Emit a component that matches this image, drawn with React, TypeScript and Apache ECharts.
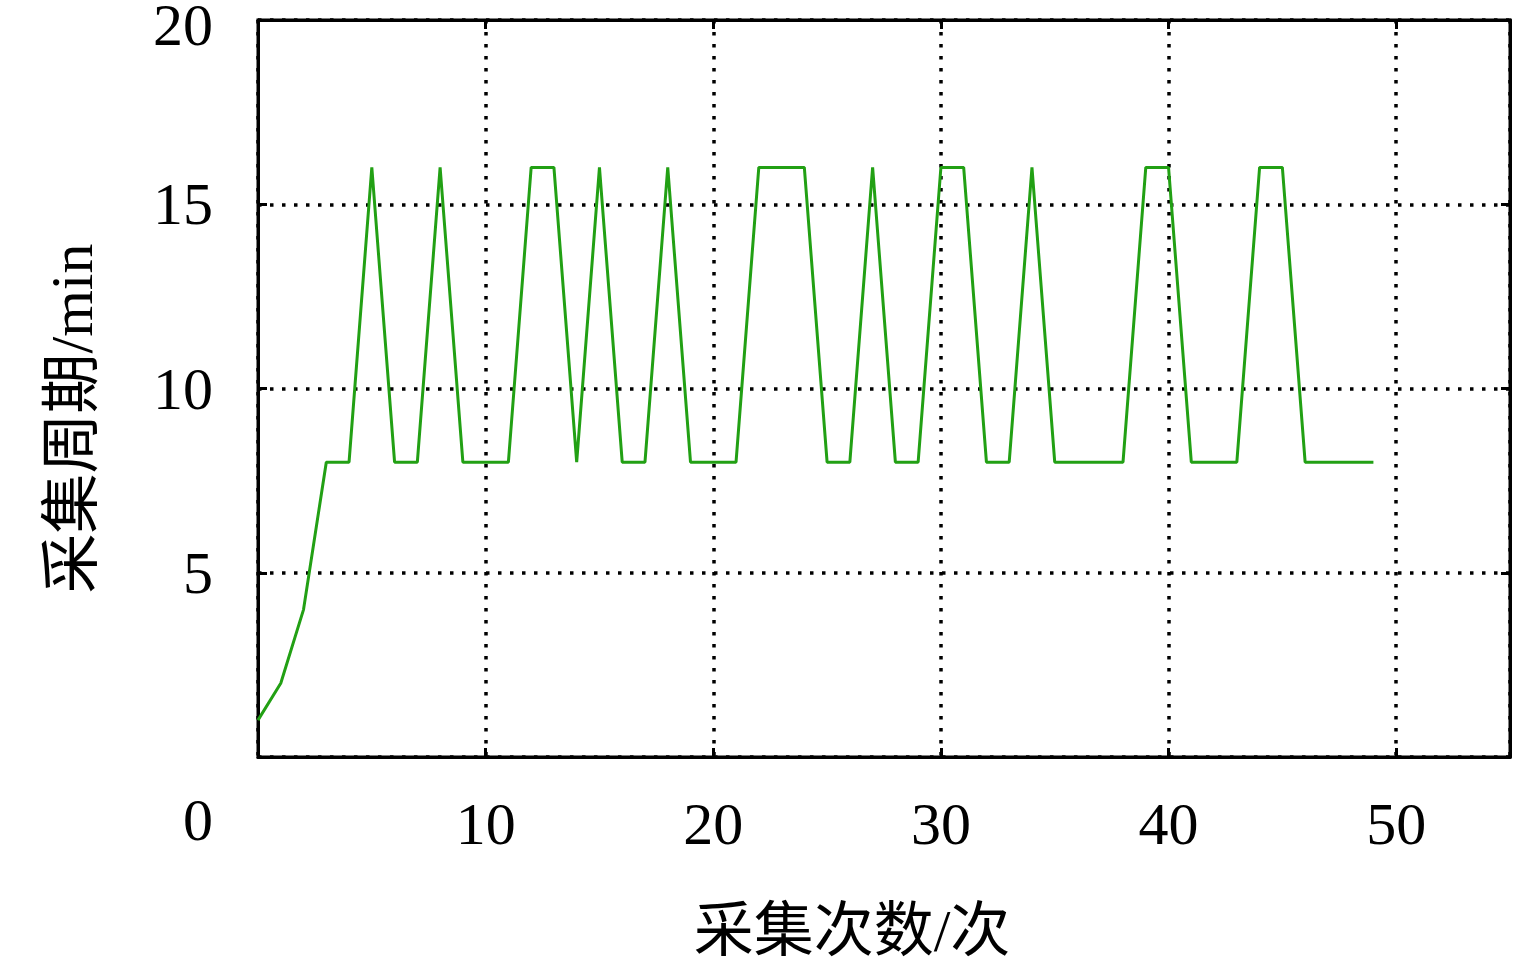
import React, { useEffect, useRef } from "react";
import * as echarts from "echarts";

const sampleIndex: number[] = Array.from({ length: 50 }, (_, i) => i);
const periodMinutes: number[] = [
  1, 2, 4, 8, 8, 16, 8, 8, 16, 8,
  8, 8, 16, 16, 8, 16, 8, 8, 16, 8,
  8, 8, 16, 16, 16, 8, 8, 16, 8, 8,
  16, 16, 8, 8, 16, 8, 8, 8, 8, 16,
  16, 8, 8, 8, 16, 16, 8, 8, 8, 8,
];
const xTitle = "采集次数/次";
const yTitle = "采集周期/min";

const FONT = "'Liberation Serif', 'Times New Roman', 'Noto Sans CJK SC', serif";

const mkTick = () => ({ show: true, inside: true, length: 9, lineStyle: { color: "#000", width: 3 } });
const mkGrid = () => ({ show: true, lineStyle: { color: "#000", width: 3.5, type: [3.5, 8.5] as any } });
const mkLine = () => ({ show: true, onZero: false, lineStyle: { color: "#000", width: 3 } });

export default function App() {
  const ref = useRef<HTMLDivElement>(null);
  useEffect(() => {
    if (!ref.current) return;
    const chart = echarts.init(ref.current, undefined, { renderer: "svg" });
    chart.setOption({
      animation: false,
      backgroundColor: "#fff",
      grid: {
        left: 258,
        right: 25,
        top: 20,
        bottom: 204,
        show: true,
        borderColor: "#000",
        borderWidth: 3,
        containLabel: false,
        outerBoundsMode: "none",
      },
      xAxis: [
        {
          type: "value",
          min: 0,
          max: 55,
          interval: 10,
          position: "bottom",
          axisLine: mkLine(),
          axisTick: mkTick(),
          splitLine: mkGrid(),
          axisLabel: {
            show: true,
            margin: 37,
            color: "#000",
            fontFamily: FONT,
            fontSize: 60,
            showMaxLabel: false,
            formatter: (v: number) => (v === 0 || v % 10 !== 0 ? "" : String(v)),
          },
          name: xTitle,
          nameLocation: "middle",
          nameGap: 145,
          nameTextStyle: {
            color: "#000",
            fontFamily: FONT,
            fontSize: 60,
            lineHeight: 58,
            padding: [0, 64, 0, 0],
          },
        },
        {
          type: "value",
          min: 0,
          max: 55,
          interval: 10,
          position: "top",
          axisLine: mkLine(),
          axisTick: mkTick(),
          splitLine: { show: false },
          axisLabel: { show: false },
        },
      ],
      yAxis: [
        {
          type: "value",
          min: 0,
          max: 20,
          interval: 5,
          position: "left",
          axisLine: mkLine(),
          axisTick: mkTick(),
          splitLine: mkGrid(),
          axisLabel: {
            show: true,
            margin: 45,
            color: "#000",
            fontFamily: FONT,
            fontSize: 60,
            lineHeight: 48,
            formatter: (v: number) =>
              v === 0 ? "{z|0}" : v === 20 ? "{t|20}" : String(v),
            rich: {
              z: {
                fontFamily: FONT,
                fontSize: 60,
                lineHeight: 48,
                color: "#000",
                padding: [126, 0, 0, 0],
              },
              t: {
                fontFamily: FONT,
                fontSize: 60,
                lineHeight: 44,
                color: "#000",
                padding: [10, 0, 0, 0],
              },
            },
          },
          name: yTitle,
          nameLocation: "middle",
          nameGap: 156,
          nameRotate: 90,
          nameTextStyle: {
            color: "#000",
            fontFamily: FONT,
            fontSize: 60,
            padding: [0, 60, 0, 0],
          },
        },
        {
          type: "value",
          min: 0,
          max: 20,
          interval: 5,
          position: "right",
          axisLine: mkLine(),
          axisTick: mkTick(),
          splitLine: { show: false },
          axisLabel: { show: false },
        },
      ],
      series: [
        {
          type: "line",
          xAxisIndex: 0,
          yAxisIndex: 0,
          data: sampleIndex.map((x, i) => [x, periodMinutes[i]]),
          showSymbol: false,
          symbol: "none",
          lineStyle: { color: "#22a014", width: 3 },
          itemStyle: { color: "#22a014" },
        },
      ],
    });
    return () => chart.dispose();
  }, []);
  return (
    <div
      ref={ref}
      style={{ position: "fixed", left: 0, top: 0, width: 1535, height: 961, background: "#fff" }}
    />
  );
}
